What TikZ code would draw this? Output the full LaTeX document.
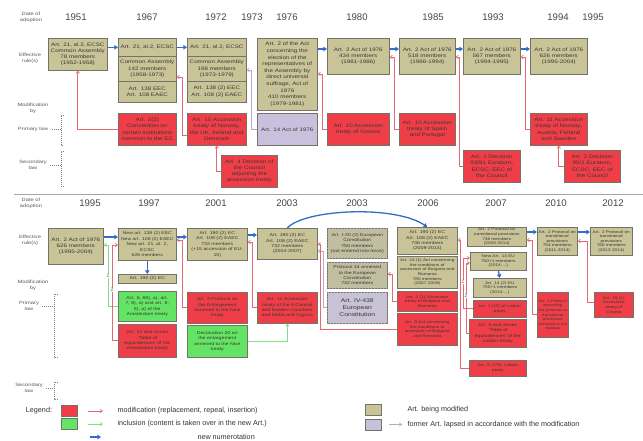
\documentclass[tikz,border=0pt]{standalone}
\usepackage{fontspec}
\setmainfont{Liberation Sans}
\newfontfamily\widefont[FakeStretch=1.25]{Liberation Sans}
\usetikzlibrary{arrows.meta,patterns}

\definecolor{artolive}{RGB}{200,196,152}
\definecolor{modred}{RGB}{239,62,72}
\definecolor{incgreen}{RGB}{100,228,100}
\definecolor{lapsedlav}{RGB}{200,193,222}
\definecolor{boxline}{RGB}{115,115,103}
\definecolor{boxtext}{RGB}{60,55,50}
\definecolor{modline}{RGB}{228,105,115}
\definecolor{incline}{RGB}{130,222,130}
\definecolor{lapsline}{RGB}{178,172,200}
\definecolor{numblue}{RGB}{50,110,200}
\definecolor{yeargray}{RGB}{70,70,70}
\definecolor{labgray}{RGB}{90,90,90}

\begin{document}
\begin{tikzpicture}[x=1pt,y=-1pt,
  box/.style={draw=boxline, line width=0.6pt, anchor=north west, inner xsep=1pt,
    inner ysep=0.5pt, align=center, text=boxtext,
    font=\widefont\fontsize{5}{6.2}\selectfont},
  dim/.style 2 args={minimum width=#1, text width=#1-2, minimum height=#2},
  small/.style={font=\widefont\fontsize{4.2}{5.4}\selectfont},
  tiny/.style={font=\widefont\fontsize{3.8}{4.6}\selectfont},
  olivebox/.style={box, fill=artolive},
  redbox/.style={box, fill=modred},
  greenbox/.style={box, fill=incgreen},
  lavbox/.style={box, fill=lapsedlav},
  hatched/.style={postaction={pattern=north east lines, pattern color=#1}},
  yr/.style={font=\fontsize{9.6}{10}\selectfont, text=yeargray},
  rowlab/.style={font=\widefont\fontsize{4.6}{5.8}\selectfont, text=labgray, align=center},
  bracket/.style={draw=gray, line width=0.5pt, dash pattern=on 1pt off 1pt},
  newnum/.style={draw=numblue, line width=1.3pt, -{Triangle[length=3.6pt,width=4.4pt]}},
  modarr/.style={draw=modline, line width=0.7pt, -{Straight Barb[length=2.2pt,width=3.4pt]}},
  incarr/.style={draw=incline, line width=0.7pt, -{Straight Barb[length=2.2pt,width=3.4pt]}},
  lapsarr/.style={draw=lapsline, line width=0.7pt, -{Straight Barb[length=2.2pt,width=3.4pt]}},
  numlab/.style={font=\fontsize{5}{5}\selectfont, text=labgray, fill=white, inner sep=0.3pt},
  legtext/.style={font=\fontsize{7.2}{8}\selectfont, text=black!80, anchor=west},
  swatch/.style={draw=boxline, line width=0.5pt, minimum width=16, minimum height=11, inner sep=0pt}
]
\useasboundingbox (0,0) rectangle (643,441);
\fill[white] (0,0) rectangle (643,441);

% ================= upper band: 1951 -- 1995 =================
\node[yr] (y51) at (76,17) {1951};
\node[yr] (y67) at (147,17) {1967};
\node[yr] (y72) at (216,17) {1972};
\node[yr] (y73) at (252,17) {1973};
\node[yr] (y76) at (287,17) {1976};
\node[yr] (y80) at (357,17) {1980};
\node[yr] (y85) at (433,17) {1985};
\node[yr] (y93) at (493,17) {1993};
\node[yr] (y94) at (558,17) {1994};
\node[yr] (y95) at (593,17) {1995};

\node[rowlab] (ldate) at (31,17) {Date of\\adoption};
\node[rowlab] (leff) at (30,58) {Effective\\rule(s)};
\node[rowlab] (lmod) at (33,108) {Modification\\by};
\node[rowlab] (lprim) at (33,129) {Primary law};
\node[rowlab] (lsec) at (33,165) {Secondary\\law};
\draw[bracket] (lprim.east) -- (61,129);
\draw[bracket] (64,115) -- (61,115) -- (61,145) -- (64,145);
\draw[bracket] (lsec.east) -- (61,165);
\draw[bracket] (64,151) -- (61,151) -- (61,186) -- (64,186);

% effective rules
\node[olivebox, dim={59}{32}] (a1) at (48,38) {Art. 21, al.2, ECSC\\Common Assembly\\78 members\\(1952-1958)};
\node[olivebox, dim={58}{18}] (a2a) at (118,38) {Art. 21, al.2, ECSC};
\node[olivebox, dim={58}{25}] (a2b) at (118,56) {Common Assembly\\142 members\\(1958-1973)};
\node[olivebox, dim={58}{21}] (a2c) at (118,81) {Art. 138 EEC\\Art. 108 EAEC};
\node[olivebox, dim={59}{18}] (a3a) at (187,38) {Art. 21, al.2, ECSC};
\node[olivebox, dim={59}{25}] (a3b) at (187,56) {Common Assembly\\198 members\\(1973-1979)};
\node[olivebox, dim={59}{21}] (a3c) at (187,81) {Art. 138 (2) EEC\\Art. 108 (2) EAEC};
\node[olivebox, dim={60}{72}, font=\widefont\fontsize{5}{6.6}\selectfont] (a4) at (257,38) {Art. 2 of the Act\\concerning the\\election of the\\representatives of\\the Assembly by\\direct universal\\suffrage, Act of\\1976\\410 members\\(1979-1981)};
\node[olivebox, dim={62}{36}] (a5) at (327,38) {Art. 2 Act of 1976\\434 members\\(1981-1986)};
\node[olivebox, dim={56}{36}] (a6) at (399,38) {Art. 2 Act of 1976\\518 members\\(1986-1994)};
\node[olivebox, dim={57}{36}] (a7) at (463,38) {Art. 2 Act of 1976\\567 members\\(1994-1995)};
\node[olivebox, dim={57}{36}] (a8) at (530,38) {Art. 2 Act of 1976\\626 members\\(1995-2004)};

% primary law
\node[redbox, dim={58}{32}] (r2) at (118,113) {Art. 2(2)\\Convention on\\certain institutions\\common to the EC};
\node[redbox, dim={59}{32}] (r3) at (187,113) {Art. 10 Accession\\treaty of Norway,\\the UK, Ireland and\\Denmark};
\node[lavbox, dim={60}{32}] (p4) at (257,113) {Art. 14 Act of 1976};
\node[redbox, dim={62}{32}] (r5) at (327,113) {Art. 10 Accession\\treaty of Greece};
\node[redbox, dim={56}{32}] (r6) at (399,113) {Art. 10 Accession\\treaty of Spain\\and Portugal};
\node[redbox, dim={57}{32}] (r8) at (530,113) {Art. 11 Accession\\treaty of Norway,\\Austria, Finland\\and Sweden};

% secondary law
\node[redbox, dim={56}{32}] (s3) at (221,155) {Art. 4 Decision of\\the Council\\adjusting the\\accession treaty};
\node[redbox, dim={57}{32}] (s7) at (463,150) {Art. 1 Decision\\93/81 Euratom,\\ECSC, EEC of\\the Council};
\node[redbox, dim={56}{32}] (s8) at (564,150) {Art. 2 Decision\\95/1 Euratom,\\ECSC, EEC of\\the Council};

% renumbering / succession
\draw[newnum] (a1.east |- a2a.west) -- (a2a.west);
\draw[newnum] (a2a.east) -- (a3a.west);
\draw[newnum] (a4.east |- 0,49) -- (a5.west |- 0,49);
\draw[newnum] (a5.east |- 0,49) -- (a6.west |- 0,49);
\draw[newnum] (a6.east |- 0,49) -- (a7.west |- 0,49);
\draw[newnum] (a7.east |- 0,49) -- (a8.west |- 0,49);

% modifications
\draw[modarr] (r2.west) -| (a1.south);
\draw[modarr] (r3.west |- 0,135) -| (182,77) -- (a2b.east |- 0,77);
\draw[modarr] (s3.west) -| (r3.south);
\draw[lapsarr] (p4.west |- 0,129) -| (251,70) -- (a3b.east |- 0,70);
\draw[modarr] (r5.west |- 0,129) -| (322,74) -- (a4.east |- 0,74);
\draw[modarr] (r6.west |- 0,129) -| (394,57) -- (a5.east |- 0,57);
\draw[modarr] (s7.west) -| (459,57) -- (a6.east |- 0,57);
\draw[modarr] (r8.west |- 0,129) -| (525,57) -- (a7.east |- 0,57);
\draw[modarr] (s8.west) -| (r8.south);

\draw[draw=black!35, line width=0.6pt] (14,194) -- (643,194);

% ================= lower band: 1995 -- 2012 =================
\node[yr] (z95) at (90,203) {1995};
\node[yr] (z97) at (149,203) {1997};
\node[yr] (z01) at (216,203) {2001};
\node[yr] (z03a) at (287,203) {2003};
\node[yr] (z03b) at (357,203) {2003};
\node[yr] (z06) at (428,203) {2006};
\node[yr] (z07) at (496,203) {2007};
\node[yr] (z10) at (556,203) {2010};
\node[yr] (z12) at (613,203) {2012};

\node[rowlab] (mdate) at (31,203) {Date of\\adoption};
\node[rowlab] (meff) at (30,240) {Effective\\rule(s)};
\node[rowlab] (mmod) at (33,285) {Modification\\by};
\node[rowlab] (mprim) at (29,306) {Primary\\law};
\node[rowlab] (msec) at (29,388) {Secondary\\law};
\draw[bracket] (mprim.east) -- (54,306);
\draw[bracket] (58,294) -- (54,294) -- (54,357) -- (58,357);
\draw[bracket] (msec.east) -- (54,388);
\draw[bracket] (58,382) -- (54,382) -- (54,399) -- (58,399);

% effective rules
\node[olivebox, dim={55}{36}] (b1) at (48,228) {Art. 2 Act of 1976\\626 members\\(1995-2004)};
\node[olivebox, small, dim={58}{32}, font=\widefont\fontsize{4.1}{5.4}\selectfont] (b2) at (118,228) {New art. 138 (2) EEC\\New art. 108 (2) EAEC\\New art. 21, al. 2,\\ECSC\\626 members};
\node[olivebox, small, dim={58}{9}] (b2n) at (118,274) {Art. 190 (2) EC};
\node[olivebox, small, dim={60}{32}] (b3) at (187,228) {Art. 190 (2) EC\\Art. 108 (2) EAEC\\732 members\\(+15 accession of EU-\\15)};
\node[olivebox, small, dim={60}{31}] (b4) at (257,228) {Art. 190 (2) EC\\Art. 108 (2) EAEC\\732 members\\(2004-2007)};
\node[olivebox, small, hatched=black!30, dim={60}{30}] (b5) at (327,228) {Art. I-20 (2) European\\Constitution\\750 members\\(not entered into force)};
\node[olivebox, small, hatched=black!30, dim={60}{26}] (b5b) at (327,262) {Protocol 34 annexed\\to the European\\Constitution\\732 members};
\node[olivebox, small, dim={60}{27}] (b6) at (397,227) {Art. 190 (2) EC\\Art. 108 (2) EAEC\\736 members\\(2009-2014)};
\node[olivebox, tiny, dim={60}{32}] (b6b) at (397,256) {Art. 24 (1) Act concerning\\the conditions of\\accession of Bulgaria and\\Romania\\785 members\\(2007-2009)};
\node[olivebox, tiny, dim={59}{19}] (b7) at (467,227) {Art. 2 Protocol on\\transitional provisions\\736 members\\(2009-2014)};
\node[olivebox, tiny, dim={56}{18}] (b7n) at (470,252) {New Art. 14 EU\\750+1 members\\(2014-...)};
\node[olivebox, tiny, dim={53}{19}] (b7m) at (473,278) {Art. 14 (2) EU\\750+1 members\\(2014-...)};
\node[olivebox, tiny, dim={40}{28}] (b8) at (537,227) {Art. 2 Protocol on\\transitional\\provisions\\754 members\\(2011-2014)};
\node[olivebox, tiny, dim={42}{28}] (b9) at (590,227) {Art. 2 Protocol on\\transitional\\provisions\\766 members\\(2013-2014)};

% primary law
\node[greenbox, small, dim={58}{30}] (g2) at (118,291) {Art. 6, 68), a), art.\\7, 6), a) and art. 8,\\5), a) of the\\Amsterdam treaty};
\node[redbox, small, dim={58}{33}] (r2b) at (118,324) {Art. 12 and annex\\`Table of\\equivalences' of the\\Amsterdam treaty};
\node[redbox, small, dim={60}{31}] (r3b) at (187,292) {Art. 2 Protocol on\\the Enlargement\\annexed to the Nice\\treaty};
\node[greenbox, small, dim={60}{32}] (g3) at (187,325) {Declaration 20 on\\the enlargement\\annexed to the Nice\\treaty};
\node[redbox, small, dim={60}{31}] (r4) at (257,292) {Art. 11 Accession\\treaty of the 8 Central\\and Eastern countries\\and Malta and Cyprus};
\node[lavbox, hatched=black!22, dim={60}{31}, font=\widefont\fontsize{5.4}{7}\selectfont] (p5) at (327,292) {Art. IV-438\\European\\Constitution};
\node[redbox, tiny, dim={60}{20}] (r6a) at (397,291) {Art. 2 (1) Accession\\treaty of Bulgaria and\\Romania};
\node[redbox, tiny, dim={60}{32}] (r6b) at (397,313) {Art. 9 Act concerning\\the conditions of\\accession of Bulgaria\\and Romania};
\node[redbox, tiny, dim={53}{17}] (r7a) at (473,300) {Art. 1 (15) of Lisbon\\treaty};
\node[redbox, small, dim={57}{28}] (r7b) at (469,319) {Art. 5 and annex\\`Table of\\equivalences' of the\\Lisbon treaty};
\node[redbox, tiny, dim={57}{16}] (r7c) at (469,360) {Art. 2, 176), Lisbon\\treaty};
\node[redbox, dim={31}{45}, font=\widefont\fontsize{3.5}{4.6}\selectfont] (r8b) at (537,292) {Art. 1 Protocol\\amending\\the protocol on\\transitional\\provisions\\annexed to the\\treaties};
\node[redbox, tiny, dim={39}{25}] (r9) at (594,292) {Art. 19 (1)\\Accession\\treaty of\\Croatia};

% renumbering / succession
\draw[newnum] (b1.east |- 0,237) -- (b2.west |- 0,237);
\draw[newnum] (b2.east |- 0,237) -- (b3.west |- 0,237);
\draw[newnum] (b3.east |- 0,235) -- (b4.west |- 0,235);
\draw[newnum] (b2.south) -- (b2n.north);
\draw[newnum] (b4.north) .. controls (305,209) and (395,205) .. (b6.north);
\draw[newnum] (b7.east |- 0,232) -- (b8.west |- 0,232);
\draw[newnum] (b8.east |- 0,232) -- (b9.west |- 0,232);
\draw[newnum] (b7n.south) -- (b7m.north);

% modifications, inclusions, lapsed articles
\draw[incarr] (g2.west) -| (108,245) -- (b1.east |- 0,245);
\draw[modarr] (r2b.west) -| (112,245) -- (b2.west |- 0,245);
\node[numlab] (k1) at (108,276) {1};
\node[numlab] (k2) at (112,290) {2};
\draw[modarr] (r3b.west |- 0,307) -| (182,240) -- (b2.east |- 0,240);
\draw[modarr] (r4.west |- 0,307) -| (252,242) -- (b3.east |- 0,242);
\draw[incarr] (g3.east) -| (r4.south);
\draw[lapsarr] (p5.west) -| (323.5,251) -- (b4.east |- 0,251);
\draw[modarr] (r6b.west) -| (320,244) -- (b4.east |- 0,244);
\draw[modarr] (r6a.west) -| (392,274) -- (b5b.east |- 0,274);
\draw[modarr] (r7c.west) -| (460,240) -- (b6.east |- 0,240);
\draw[modarr] (r7a.west) -| (463,258) -- (b7n.west |- 0,258);
\draw[modarr] (r7b.west) -| (466,263) -- (b7n.west |- 0,263);
\node[numlab] (k3) at (463,282) {1};
\node[numlab] (k4) at (466,296) {2};
\draw[modarr] (r8b.west |- 0,314) -| (532,240) -- (b7.east |- 0,240);
\draw[modarr] (r9.west |- 0,302) -| (587,241) -- (b8.east |- 0,241);

% ================= legend =================
\node[font=\fontsize{7.2}{8}\selectfont, text=black!80] (leg) at (39,411) {Legend:};
\node[swatch, fill=modred] (sw1) at (69,410.5) {};
\node[swatch, fill=incgreen] (sw2) at (69,423.5) {};
\node[swatch, fill=artolive] (sw3) at (373,409.5) {};
\node[swatch, fill=lapsedlav] (sw4) at (373,424.5) {};
\node[legtext] (t1) at (114,411) {modification (replacement, repeal, insertion)};
\node[legtext] (t2) at (114,424) {inclusion (content is taken over in the new Art.)};
\node[legtext] (t3) at (194,437) {new numerotation};
\node[legtext] (t4) at (404,409.5) {Art. being modified};
\node[legtext] (t5) at (404,424.5) {former Art. lapsed in accordance with the modification};
\coordinate (e1) at (88,411);
\coordinate (e2) at (88,424);
\coordinate (e3) at (90,437);
\coordinate (e4) at (389,424.5);
\draw[modarr] (e1) -- ++(15,0);
\draw[incarr] (e2) -- ++(15,0);
\draw[newnum] (e3) -- ++(11,0);
\draw[lapsarr] (e4) -- ++(13,0);
\end{tikzpicture}
\end{document}
